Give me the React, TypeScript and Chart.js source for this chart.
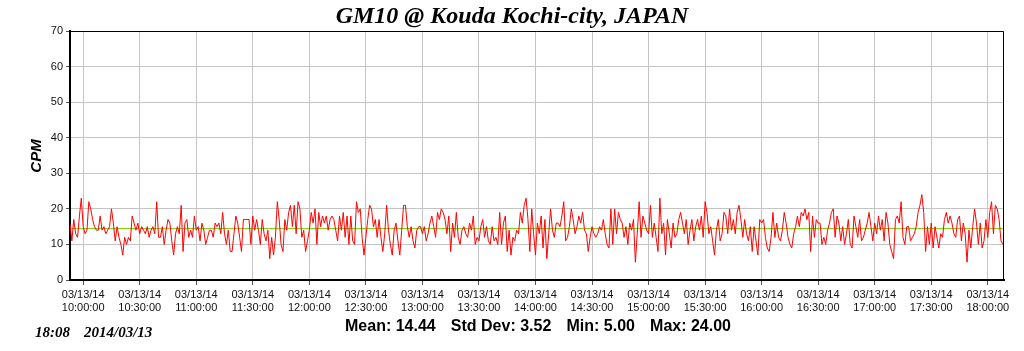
import React, { useEffect, useRef } from 'react';
import { Chart, registerables } from 'chart.js';

Chart.register(...registerables);

// CPM readings, one per minute starting 09:53 (segment by segment)
const cpm0953 = [16,11,17,13,12,18,23,15,13,14,22,20,17,15,14,14,18,14,15,13,14,15,20,16,11,15,12,10,7,12,10,12,11,18,16,14,16,13,15,14,13,15,12,14,15,13,22,12];
const cpm1041 = [12,15,10,14,17,16,11,7,13,15,13,21,8,16,17,12,14,12,18,14,15,11,16,14,10,12,14,14,12,16,15,16,13,19,13,10,14,8,8,13,18,16,12,8,17,17,17,17,10,18];
const cpm1131 = [14,17,14,10,17,13,11,14,6,12,7,12,22,17,10,8,17,14,19,21,15,21,13,22,20,12,14,8,11,14,19,16,20,10,19,15,18,16,18,14,17,18,17,14,11,18,14,19,12,18];
const cpm1221 = [10,18,11,10,22,19,20,12,7,12,17,21,20,15,17,12,17,12,8,13,21,14,10,7,14,16,11,7,14,21,21,15,12,15,11,9,14,15,15,13,15,11,13,16,18,15,12,19,17,20];
const cpm1311 = [19,17,13,18,8,16,12,19,12,10,14,15,13,12,16,14,18,10,12,11,15,17,12,15,11,10,15,11,12,10,19,10,16,18,8,14,7,12,11,14,13,19,16,21,23,17,8,20,13,7];
const cpm1401 = [16,13,18,9,17,6,13,20,14,12,16,16,15,18,22,11,12,15,20,17,13,15,18,16,19,14,13,8,12,15,13,12,13,15,14,17,13,10,9,20,10,20,13,19,17,16,12,15,10,16];
const cpm1451 = [14,17,5,13,22,12,18,16,14,13,21,12,16,12,8,23,13,16,7,17,13,9,16,12,13,17,19,16,13,17,10,14,17,11,15,17,14,18,12,22,19,13,15,11,7,14,17,11,13,19];
const cpm1541 = [18,13,20,14,17,13,19,21,17,12,17,13,11,15,8,15,11,7,17,16,17,12,9,8,12,19,12,16,12,11,14,19,16,12,10,9,13,15,18,15,19,18,20,17,19,8,18,12,17,16];
const cpm1631 = [16,10,12,10,14,16,19,20,12,18,16,11,15,10,13,17,10,9,18,15,12,17,11,12,14,16,19,15,11,16,13,18,14,17,11,19,16,10,8,6,17,18,16,22,12,10,15,15,11,12];
const cpm1721 = [13,15,19,21,24,19,8,15,10,16,9,15,12,9,13,12,17,19,16,18,16,13,12,17,18,11,16,13,5,14,9,15,20,16,10,16,9,11,17,12,19,22,13,21,20,17,11,10];

const cpmValues = [
  ...cpm0953, ...cpm1041, ...cpm1131, ...cpm1221, ...cpm1311,
  ...cpm1401, ...cpm1451, ...cpm1541, ...cpm1631, ...cpm1721,
];

const firstMinute = 593; // 09:53
const axisMinMinute = 593;
const axisMaxMinute = 1088.6;
const tickMinutes = [600, 630, 660, 690, 720, 750, 780, 810, 840, 870, 900, 930, 960, 990, 1020, 1050, 1080];
const dateLabel = '03/13/14';
const yMin = 0;
const yMax = 70;
const yStep = 10;
const meanCpm = 14.44;

const titleText = 'GM10 @ Kouda Kochi-city, JAPAN';
const yAxisTitle = 'CPM';
const statTexts = ['Mean: 14.44', 'Std Dev: 3.52', 'Min: 5.00', 'Max: 24.00'];
const stampTexts = ['18:08', '2014/03/13'];

const SANS = '"Liberation Sans", Arial, sans-serif';
const SERIF = '"Liberation Serif", "Times New Roman", serif';

const pad2 = (n: number) => String(n).padStart(2, '0');
const fmtTime = (m: number) => `${pad2(Math.floor(m / 60))}:${pad2(Math.round(m % 60))}:00`;

const textPlugin = {
  id: 'textPlugin',
  afterDraw(chart: any) {
    const { ctx, chartArea: a } = chart;
    ctx.save();
    // top & right frame
    ctx.strokeStyle = '#000';
    ctx.lineWidth = 1;
    ctx.beginPath();
    ctx.moveTo(a.left, a.top + 0.5);
    ctx.lineTo(a.right - 0.5, a.top + 0.5);
    ctx.lineTo(a.right - 0.5, a.bottom);
    ctx.stroke();

    ctx.fillStyle = '#000';
    // title
    ctx.font = `italic bold 24px ${SERIF}`;
    ctx.textAlign = 'center';
    ctx.textBaseline = 'middle';
    ctx.fillText(titleText, 512, 17);

    // y axis title
    ctx.save();
    ctx.translate(37, 156);
    ctx.rotate(-Math.PI / 2);
    ctx.font = `italic bold 15px ${SANS}`;
    ctx.fillText(yAxisTitle, 0, 0);
    ctx.restore();

    // stats, spread between x=345 and x=731
    ctx.font = `bold 16px ${SANS}`;
    ctx.textAlign = 'left';
    const widths = statTexts.map((t) => ctx.measureText(t).width);
    const total = widths.reduce((s, w) => s + w, 0);
    const gap = (731 - 345 - total) / (statTexts.length - 1);
    let x = 345;
    statTexts.forEach((t, i) => {
      ctx.fillText(t, x, 327);
      x += widths[i] + gap;
    });

    // stamp
    ctx.font = `italic bold 15px ${SERIF}`;
    ctx.fillText(stampTexts[0], 35, 333);
    ctx.fillText(stampTexts[1], 84, 333);
    ctx.restore();
  },
};

export default function App() {
  const canvasRef = useRef<HTMLCanvasElement | null>(null);

  useEffect(() => {
    document.body.style.margin = '0';
    const canvas = canvasRef.current;
    if (!canvas) return;
    const lineData = cpmValues.map((v, i) => ({ x: firstMinute + i, y: v }));
    const meanData = [
      { x: axisMinMinute, y: meanCpm },
      { x: axisMaxMinute, y: meanCpm },
    ];
    const chart = new Chart(canvas, {
      type: 'line',
      data: {
        datasets: [
          {
            data: lineData,
            borderColor: '#ff0000',
            borderWidth: 1,
            pointRadius: 0,
            tension: 0,
          },
          {
            data: meanData,
            borderColor: '#7cc400',
            borderWidth: 1,
            pointRadius: 0,
          },
        ],
      },
      options: {
        responsive: false,
        animation: false,
        events: [],
        layout: { padding: { left: 0, right: 20, top: 31, bottom: 0 } },
        plugins: {
          legend: { display: false },
          tooltip: { enabled: false },
          title: { display: false },
        },
        scales: {
          x: {
            type: 'linear',
            min: axisMinMinute,
            max: axisMaxMinute,
            afterBuildTicks: (scale: any) => {
              scale.ticks = tickMinutes.map((v) => ({ value: v }));
            },
            afterFit: (scale: any) => {
              scale.height = 71;
              scale.paddingLeft = 0;
              scale.paddingRight = 0;
            },
            grid: {
              color: '#c4c4c4',
              lineWidth: 1,
              drawTicks: true,
              tickLength: 5,
              tickColor: '#555',
            },
            border: { color: '#000', width: 2 },
            ticks: {
              autoSkip: false,
              maxRotation: 0,
              minRotation: 0,
              padding: 3,
              color: '#111',
              font: { family: SANS, size: 11, lineHeight: 1.18 },
              callback: (v: any) => [dateLabel, fmtTime(Number(v))],
            },
          },
          y: {
            type: 'linear',
            min: yMin,
            max: yMax,
            afterFit: (scale: any) => {
              scale.width = 70;
            },
            grid: {
              color: '#c4c4c4',
              lineWidth: 1,
              drawTicks: true,
              tickLength: 4,
              tickColor: '#555',
            },
            border: { color: '#000', width: 2 },
            ticks: {
              stepSize: yStep,
              padding: 3,
              color: '#111',
              font: { family: SANS, size: 11 },
            },
          },
        },
      },
      plugins: [textPlugin],
    });
    return () => chart.destroy();
  }, []);

  return (
    <div style={{ width: 1024, height: 351, background: '#fff' }}>
      <canvas ref={canvasRef} width={1024} height={351} style={{ display: 'block' }} />
    </div>
  );
}
